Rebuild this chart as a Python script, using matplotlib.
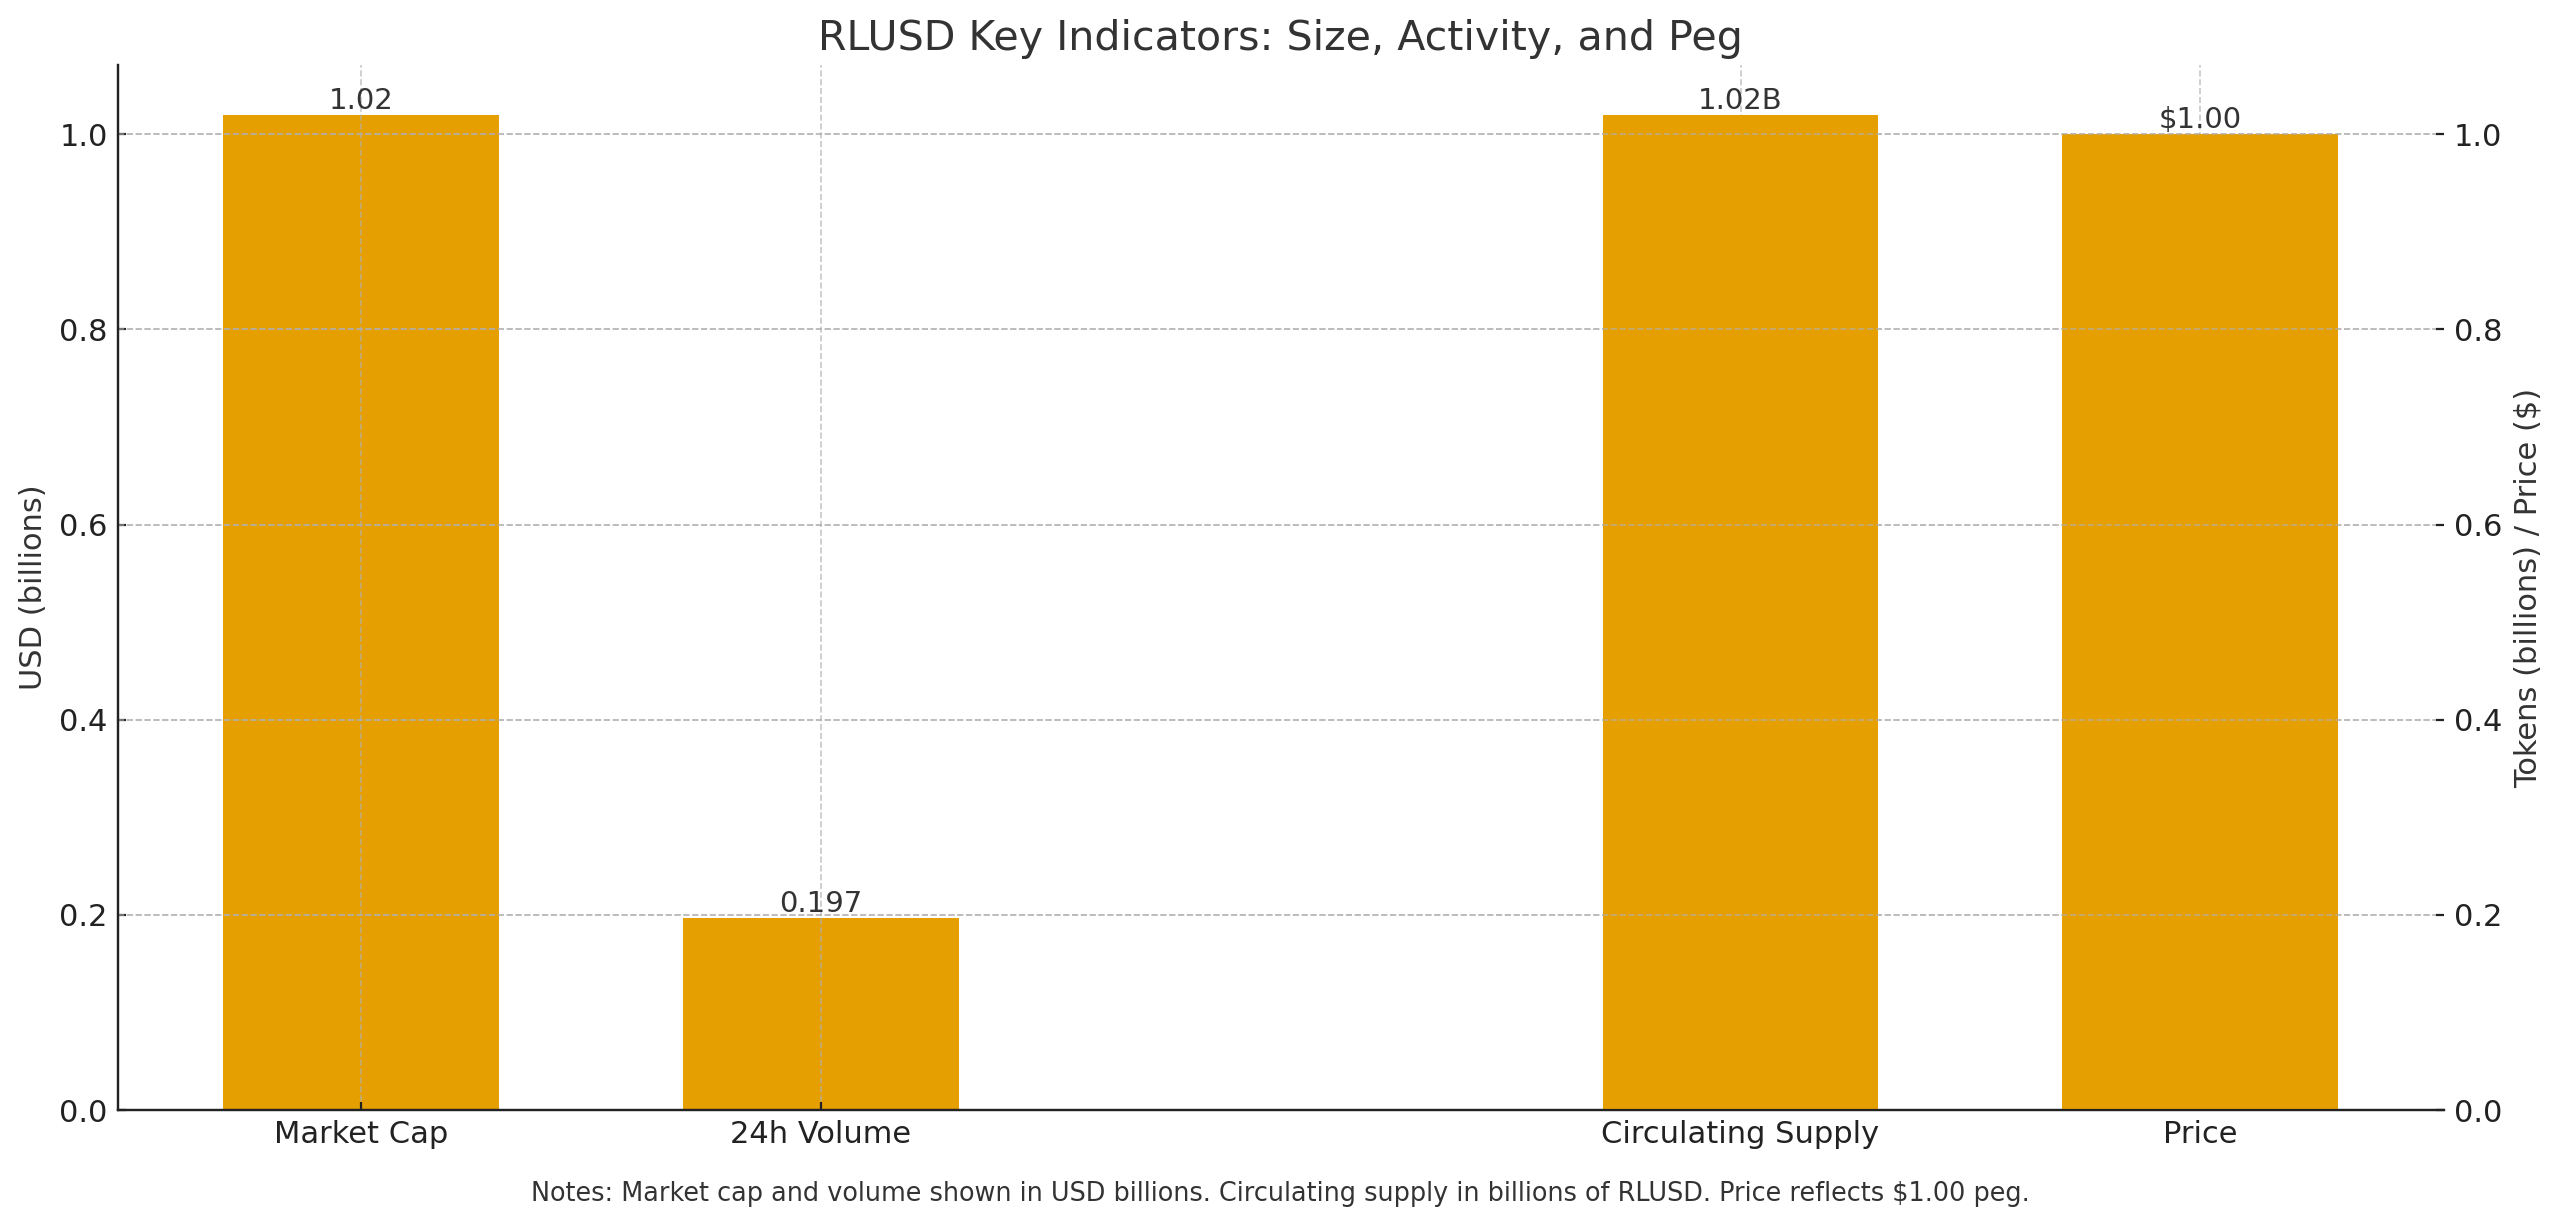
import matplotlib
matplotlib.use("Agg")
import matplotlib.pyplot as plt

# ---- data ----
usd_categories = ["Market Cap", "24h Volume"]
usd_values = [1.02, 0.197]
usd_labels = ["1.02", "0.197"]

token_categories = ["Circulating Supply", "Price"]
token_values = [1.02, 1.00]
token_labels = ["1.02B", "$1.00"]

title = "RLUSD Key Indicators: Size, Activity, and Peg"
left_ylabel = "USD (billions)"
right_ylabel = "Tokens (billions) / Price (\\$)"
note = ("Notes: Market cap and volume shown in USD billions. "
        "Circulating supply in billions of RLUSD. Price reflects \\$1.00 peg.")

# ---- layout ----
usd_pos = [0, 1]
token_pos = [3, 4]
bar_color = "#E69F00"
text_color = "#333333"
tick_color = "#222222"

plt.rcParams["font.family"] = ["DejaVu Sans"]
fig = plt.figure(figsize=(12.8, 6.13), dpi=200)
ax = fig.add_axes([0.0459, 0.0946, 0.9088, 0.8524])
ax2 = ax.twinx()

b1 = ax.bar(usd_pos, usd_values, width=0.6, color=bar_color)
b2 = ax2.bar(token_pos, token_values, width=0.6, color=bar_color)

ax.set_xticks(usd_pos + token_pos)
ax.set_xticklabels(usd_categories + token_categories)

grid_kw = dict(linestyle="--", color="#b0b0b0", linewidth=0.6, alpha=0.7)
ax.grid(True, **grid_kw)
ax2.grid(True, **grid_kw)

ylim = (0, max(usd_values + token_values) * 1.05)
ax.set_ylim(ylim)
ax2.set_ylim(ylim)

ax.bar_label(b1, labels=usd_labels, padding=0, fontsize=10.5, color=text_color)
ax2.bar_label(b2, labels=[l.replace("$", "\\$") for l in token_labels],
              padding=0, fontsize=10.5, color=text_color)

for a in (ax, ax2):
    a.spines["top"].set_visible(False)
    a.spines["right"].set_visible(False)
    a.spines["left"].set_color(tick_color)
    a.spines["bottom"].set_color(tick_color)
    a.tick_params(labelsize=11, colors=tick_color, direction="in", length=3)

ax.set_ylabel(left_ylabel, fontsize=11, color=text_color)
ax2.set_ylabel(right_ylabel, fontsize=11, color=text_color)
ax.set_title(title, fontsize=14.8, color=text_color, pad=5.5)

fig.text(0.5, 0.026, note, ha="center", va="center", fontsize=9.2, color=text_color)

fig.savefig("out.png", dpi=200)
